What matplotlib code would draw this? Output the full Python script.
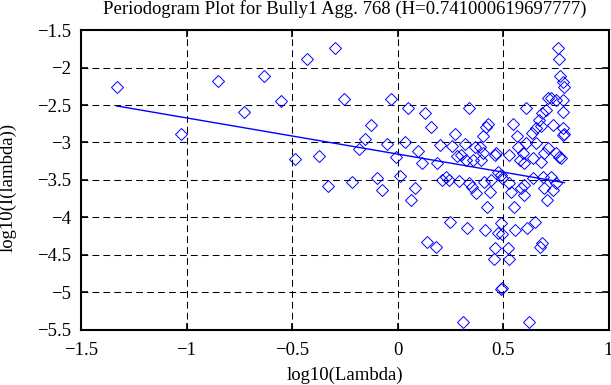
import numpy as np
import matplotlib
matplotlib.use("Agg")
import matplotlib.pyplot as plt

plt.rcParams['font.family'] = ['Liberation Serif', 'DejaVu Serif']

hurst = 0.741000619697777
title = "Periodogram Plot for Bully1 Agg. 768 (H=%s)" % repr(hurst)

# log10(lambda) / log10(I(lambda))
log_lambda = [
    -1.331, -1.028, -0.852, -0.730, -0.632, -0.552, -0.486, -0.427, -0.374, -0.330,
    -0.296, -0.252, -0.216, -0.183, -0.156, -0.126, -0.099, -0.075, -0.050, -0.030,
    -0.009, 0.011, 0.033, 0.051, 0.066, 0.085, 0.098, 0.117, 0.131, 0.140,
    0.158, 0.180, 0.186, 0.200, 0.213, 0.231, 0.246, 0.249, 0.260, 0.271,
    0.284, 0.289, 0.301, 0.309, 0.320, 0.325, 0.330, 0.341, 0.341, 0.352,
    0.357, 0.365, 0.373, 0.392, 0.396, 0.404, 0.407, 0.412, 0.413, 0.420,
    0.425, 0.429, 0.436, 0.444, 0.455, 0.462, 0.464, 0.467, 0.475, 0.475,
    0.491, 0.492, 0.494, 0.495, 0.490, 0.495, 0.522, 0.530, 0.530, 0.530,
    0.538, 0.549, 0.554, 0.557, 0.567, 0.572, 0.578, 0.586, 0.593, 0.601,
    0.601, 0.601, 0.608, 0.609, 0.612, 0.622, 0.636, 0.640, 0.640, 0.652,
    0.657, 0.657, 0.672, 0.673, 0.678, 0.680, 0.683, 0.685, 0.688, 0.696,
    0.696, 0.704, 0.707, 0.712, 0.712, 0.727, 0.729, 0.735, 0.735, 0.751,
    0.751, 0.753, 0.759, 0.767, 0.767, 0.770, 0.775, 0.783, 0.783, 0.783,
    0.783, 0.783, 0.791, 0.791,
]
log_power = [
    -2.256, -2.883, -2.176, -2.593, -2.118, -2.447, -3.224, -1.882, -3.180, -3.580,
    -1.745, -2.416, -3.531, -3.087, -2.953, -2.771, -3.469, -3.633, -3.020, -2.424,
    -3.189, -3.447, -2.993, -2.544, -3.771, -3.611, -3.118, -3.278, -2.607, -4.327,
    -2.789, -4.393, -3.278, -3.033, -3.500, -3.456, -3.500, -4.056, -3.042, -2.882,
    -3.180, -3.509, -3.167, -5.398, -3.020, -3.233, -4.144, -2.535, -3.544, -3.589,
    -3.233, -3.056, -3.678, -3.064, -3.233, -3.144, -2.913, -3.531, -4.167, -2.789,
    -3.864, -2.749, -3.656, -3.500, -4.557, -3.162, -4.411, -3.144, -3.389, -4.211,
    -3.433, -4.078, -4.220, -4.944, -4.960, -3.478, -4.411, -3.162, -4.557, -3.544,
    -3.656, -2.753, -3.864, -4.167, -2.909, -3.056, -3.233, -3.611, -3.144, -3.278,
    -3.567, -3.700, -2.544, -3.011, -4.144, -5.398, -2.878, -3.211, -3.478, -4.056,
    -2.811, -3.011, -2.700, -4.389, -2.780, -3.256, -2.611, -4.336, -3.456, -3.144,
    -3.611, -2.567, -3.767, -2.411, -3.078, -3.456, -2.411, -2.767, -3.633, -3.144,
    -3.544, -2.433, -1.745, -1.887, -3.189, -2.113, -3.211, -2.189, -2.433, -2.589,
    -2.811, -2.900, -2.256, -2.887,
]

# least squares fit: slope = 1 - 2H
fit_slope = 1 - 2 * hurst
fit_intercept = -3.154
fit_range = [-1.331, 0.791]

x_ticks = [-1.5, -1, -0.5, 0, 0.5, 1]
x_labels = ["\u22121.5", "\u22121", "\u22120.5", "0", "0.5", "1"]
y_ticks = [-1.5, -2, -2.5, -3, -3.5, -4, -4.5, -5, -5.5]
y_labels = ["\u22121.5", "\u22122", "\u22122.5", "\u22123", "\u22123.5",
            "\u22124", "\u22124.5", "\u22125", "\u22125.5"]

fs = 13.5

fig = plt.figure(figsize=(6.11, 3.85), dpi=100)
ax = fig.add_axes([0.1326, 0.143, 0.8634, 0.779])

ax.plot(log_lambda, log_power, linestyle='none', marker='D', ms=6.6,
        mfc='none', mec='blue', mew=0.7)
fx = np.array(fit_range)
ax.plot(fx, fit_slope * fx + fit_intercept, color='blue', lw=1.0)

ax.set_xlim(-1.5, 1)
ax.set_ylim(-5.5, -1.5)
ax.set_xticks(x_ticks)
ax.set_xticklabels(x_labels)
ax.set_yticks(y_ticks)
ax.set_yticklabels(y_labels)
ax.grid(True, color='black', linestyle=(0, (6.5, 4)), linewidth=0.75)
ax.tick_params(direction='in', top=True, right=True, length=5, width=1.2,
               labelsize=fs)
ax.tick_params(axis='y', pad=7)
ax.tick_params(axis='x', pad=9)
for s in ax.spines.values():
    s.set_linewidth(1.5)

ax.set_title(title, fontsize=fs, y=1.0 + 21.5 / 300, va='center', pad=0)
ax.set_xlabel("log10(Lambda)", fontsize=fs, va='center')
ax.xaxis.set_label_coords(0.5, -0.153)
ax.set_ylabel("log10(I(lambda))", fontsize=fs, va='center')
ax.yaxis.set_label_coords(-0.138, 0.475)

fig.savefig("out.png", dpi=100)
